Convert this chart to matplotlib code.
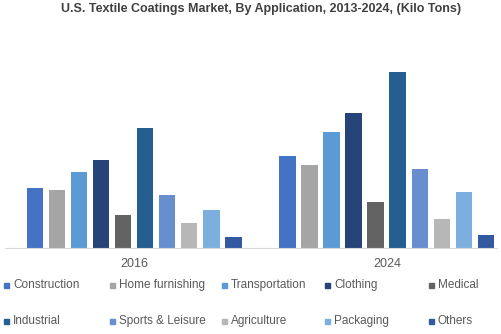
import numpy as np
import matplotlib.pyplot as plt
from matplotlib.patches import Rectangle

plt.rcParams['font.family'] = ['Liberation Sans', 'DejaVu Sans']

years = ["2016", "2024"]
applications = ["Construction", "Home furnishing", "Transportation", "Clothing", "Medical",
                "Industrial", "Sports & Leisure", "Agriculture", "Packaging", "Others"]
# values (kilo tons, arbitrary scale)
v2016 = [60, 58, 76, 88, 33, 120, 53, 25, 38, 11]
v2024 = [92, 83, 116, 135, 46, 176, 79, 29, 56, 13]
colors = ["#4472C4", "#A5A5A5", "#5B9BD5", "#264478", "#636363",
          "#255E91", "#698ED0", "#B7B7B7", "#7CAFDD", "#335AA1"]

W, H = 502, 334
fig = plt.figure(figsize=(W / 100, H / 100), dpi=100)
ax = fig.add_axes([5 / W, 1 - 248 / H, 492 / W, 208 / H])

x = np.arange(len(years))
pitch = 0.087
width = 0.067
for i, app in enumerate(applications):
    vals = [v2016[i], v2024[i]]
    ax.bar(x + (i - 4.5) * pitch, vals, width, color=colors[i], label=app)

ax.set_xlim(-0.51, 1.435)
ax.set_ylim(0, 208)
ax.set_xticks(x)
ax.set_xticklabels(years, fontsize=9, color="#595959")
ax.tick_params(axis="x", length=0, pad=7)
ax.set_yticks([])
for s in ["top", "right", "left"]:
    ax.spines[s].set_visible(False)
ax.spines["bottom"].set_color("#D9D9D9")

fig.text(261 / W, 1 - 9 / H, "U.S. Textile Coatings Market, By Application, 2013-2024, (Kilo Tons)",
         ha="center", va="center", fontsize=9, fontweight="bold", color="#404040")

# legend: two rows of five
col_x = [4, 110, 222, 325, 429]
row_y = [285, 321]
for i, app in enumerate(applications):
    cx = col_x[i % 5]
    cy = row_y[i // 5]
    fig.add_artist(Rectangle((cx / W, 1 - (cy + 2.5) / H), 5 / W, 5 / H,
                             transform=fig.transFigure, color=colors[i]))
    fig.text((cx + 9) / W, 1 - cy / H, app, ha="left", va="center",
             fontsize=8.5, color="#595959")

fig.savefig("out.png", dpi=100)
